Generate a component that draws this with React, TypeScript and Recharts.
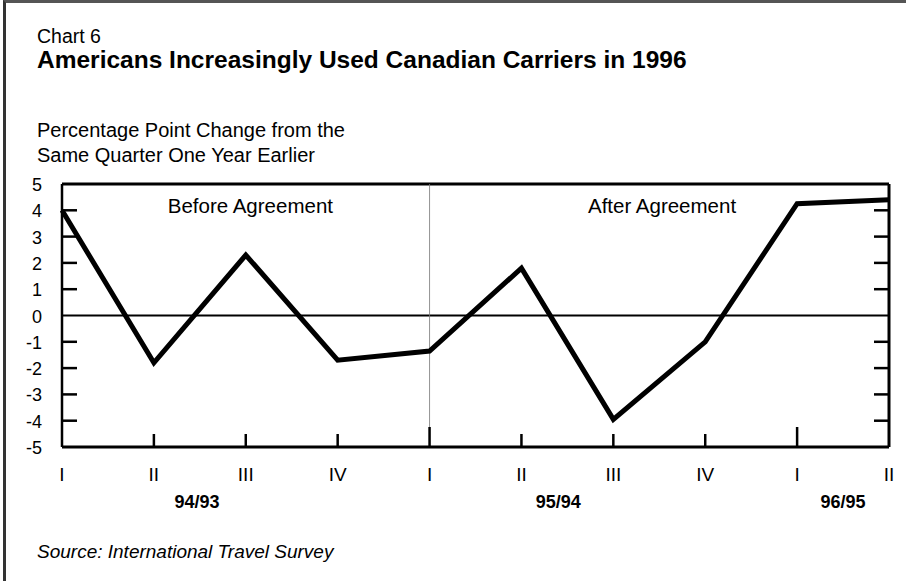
import React from 'react';
import { LineChart, Line, XAxis, YAxis, ReferenceLine, ReferenceDot } from 'recharts';

// quarter labels along the bottom
const quarters = ['I', 'II', 'III', 'IV', 'I', 'II', 'III', 'IV', 'I', 'II'];
// percentage point change from same quarter one year earlier
const changes = [4.0, -1.8, 2.3, -1.7, -1.35, 1.8, -3.95, -1.0, 4.25, 4.4];
const yTicks = [-5, -4, -3, -2, -1, 0, 1, 2, 3, 4, 5];
const yearLabels = ['94/93', '95/94', '96/95'];
const yearPositions = [1.47, 5.4, 8.5];
const longTicks = [4, 8];

const data = quarters.map((q, i) => ({ idx: i, quarter: q, value: changes[i] }));

const FONT = '"Liberation Sans", Arial, sans-serif';

const QuarterTick = ({ x, y, payload }: any) => {
  const i = payload.value;
  const len = longTicks.includes(i) ? 20 : 13;
  return (
    <g>
      {i > 0 && i < 9 && (
        <line x1={x} x2={x} y1={y} y2={y - len} stroke="#000" strokeWidth={2.5} />
      )}
      <text x={x} y={y + 34} textAnchor="middle" fontSize={19} fontFamily={FONT} fill="#000">
        {quarters[i]}
      </text>
    </g>
  );
};

const YearTick = ({ x, y, payload }: any) => {
  const i = yearPositions.indexOf(payload.value);
  return (
    <text x={x} y={y + 31} textAnchor="middle" fontSize={18} fontWeight="bold" fontFamily={FONT} fill="#000">
      {yearLabels[i]}
    </text>
  );
};

const LeftTick = ({ x, y, payload }: any) => {
  const v = payload.value;
  return (
    <g>
      {v > -5 && v < 5 && v !== 0 && (
        <line x1={x} x2={x + 15} y1={y} y2={y} stroke="#000" strokeWidth={2.5} />
      )}
      <text x={x - 20} y={y + 7} textAnchor="end" fontSize={18} fontFamily={FONT} fill="#000">
        {v}
      </text>
    </g>
  );
};

const RightTick = ({ x, y, payload }: any) => {
  const v = payload.value;
  if (v <= -5 || v >= 5 || v === 0) return <g />;
  return <line x1={x} x2={x - 15} y1={y} y2={y} stroke="#000" strokeWidth={2.5} />;
};

const App: React.FC = () => {
  return (
    <div
      style={{
        position: 'absolute',
        left: 0,
        top: 0,
        width: 906,
        height: 581,
        background: '#fff',
        fontFamily: FONT,
        overflow: 'hidden',
      }}
    >
      <div
        style={{
          position: 'absolute',
          left: 3,
          top: 0,
          width: 920,
          height: 600,
          borderLeft: '3px solid #333',
          borderTop: '3px solid #555',
        }}
      />
      <div style={{ position: 'absolute', left: 37, top: 25, fontSize: 19.5 }}>Chart 6</div>
      <div style={{ position: 'absolute', left: 37, top: 46, fontSize: 24.5, fontWeight: 'bold' }}>
        Americans Increasingly Used Canadian Carriers in 1996
      </div>
      <div style={{ position: 'absolute', left: 37, top: 118, fontSize: 20, lineHeight: '25px' }}>
        Percentage Point Change from the
        <br />
        Same Quarter One Year Earlier
      </div>
      <div style={{ position: 'absolute', left: 37, top: 541, fontSize: 19, fontStyle: 'italic' }}>
        Source: International Travel Survey
      </div>

      <div style={{ position: 'absolute', left: 0, top: 0 }}>
        <LineChart
          width={906}
          height={581}
          data={data}
          margin={{ top: 184, right: 16, bottom: 64, left: 12 }}
        >
          <XAxis
            dataKey="idx"
            type="number"
            domain={[0, 9]}
            ticks={[0, 1, 2, 3, 4, 5, 6, 7, 8, 9]}
            interval={0}
            height={30}
            tickSize={0}
            tickMargin={0}
            tickLine={false}
            tick={<QuarterTick />}
            axisLine={{ stroke: '#000', strokeWidth: 3 }}
          />
          <XAxis
            xAxisId="year"
            dataKey="idx"
            type="number"
            domain={[0, 9]}
            ticks={yearPositions}
            interval={0}
            height={40}
            tickSize={0}
            tickMargin={0}
            tickLine={false}
            axisLine={false}
            tick={<YearTick />}
          />
          <YAxis
            type="number"
            domain={[-5, 5]}
            ticks={yTicks}
            interval={0}
            width={50}
            tickSize={0}
            tickMargin={0}
            tickLine={false}
            tick={<LeftTick />}
            axisLine={{ stroke: '#000', strokeWidth: 2.5 }}
          />
          <YAxis
            yAxisId="right"
            orientation="right"
            type="number"
            domain={[-5, 5]}
            ticks={yTicks}
            interval={0}
            width={1}
            tickSize={0}
            tickMargin={0}
            tickLine={false}
            tick={(p: any) => <RightTick {...p} />}
            axisLine={{ stroke: '#000', strokeWidth: 3 }}
          />
          <ReferenceLine y={5} stroke="#000" strokeWidth={3} />
          <ReferenceLine y={0} stroke="#000" strokeWidth={2} />
          <ReferenceLine x={4} stroke="#777" strokeWidth={0.8} />
          <ReferenceDot
            x={2.05}
            y={4.18}
            r={0}
            fill="none"
            stroke="none"
            label={{ value: 'Before Agreement', position: 'center', fontSize: 20.5, fill: '#000', fontFamily: FONT }}
          />
          <ReferenceDot
            x={6.53}
            y={4.18}
            r={0}
            fill="none"
            stroke="none"
            label={{ value: 'After Agreement', position: 'center', fontSize: 20.5, fill: '#000', fontFamily: FONT }}
          />
          {/* invisible copy so the right axis gets its scale */}
          <Line
            yAxisId="right"
            type="linear"
            dataKey="value"
            stroke="none"
            dot={false}
            activeDot={false}
            legendType="none"
            isAnimationActive={false}
          />
          <Line
            type="linear"
            dataKey="value"
            stroke="#000"
            strokeWidth={5}
            dot={false}
            isAnimationActive={false}
          />
        </LineChart>
      </div>
    </div>
  );
};

export default App;
